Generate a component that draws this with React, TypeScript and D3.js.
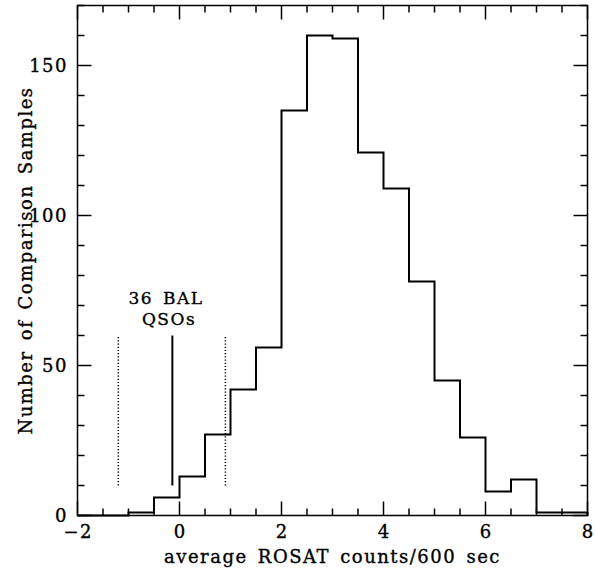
import React from "react";
import * as d3 from "d3";

const binEdgesStart = [-2, -1.5, -1, -0.5, 0, 0.5, 1, 1.5, 2, 2.5, 3, 3.5, 4, 4.5, 5, 5.5, 6, 6.5, 7, 7.5];
const counts = [0, 0, 1, 6, 13, 27, 42, 56, 135, 160, 159, 121, 109, 78, 45, 26, 8, 12, 1, 1];
const binWidth = 0.5;
const xTicksMajor = [-2, 0, 2, 4, 6, 8];
const yTicksMajor = [0, 50, 100, 150];
const solidMarker = [-0.14];
const dottedMarkers = [-1.2, 0.9];
const markerRange = [10, 60];
const labelLines = ["36 BAL", "QSOs"];
const xLabel = "average ROSAT counts/600 sec";
const yLabel = "Number of Comparison Samples";

const W = 595, H = 572;
const L = 77.5, R = 587.5, T = 5.5, B = 515.5;
const FONT = "DejaVu Serif";

export default function App() {
  const x = d3.scaleLinear().domain([-2, 8]).range([L, R]);
  const y = d3.scaleLinear().domain([0, 170]).range([B, T]);

  const pts: [number, number][] = [];
  pts.push([binEdgesStart[0], 0]);
  binEdgesStart.forEach((s, i) => {
    pts.push([s, counts[i]]);
    pts.push([s + binWidth, counts[i]]);
  });
  pts.push([binEdgesStart[binEdgesStart.length - 1] + binWidth, 0]);
  const line = d3.line<[number, number]>().x(d => x(d[0])).y(d => y(d[1]));

  const xMinor = d3.range(-2, 8.001, 0.5);
  const yMinor = d3.range(0, 170.001, 10);
  const major = 14, minor = 7;

  return (
    <svg width={W} height={H} style={{ position: "absolute", left: 0, top: 0 }}>
      <rect width={W} height={H} fill="#fff" />
      <g stroke="#000" strokeWidth={1.5} fill="none">
        <rect x={L} y={T} width={R - L} height={B - T} />
        {xMinor.map((v, i) => {
          const isMaj = xTicksMajor.some(m => Math.abs(m - v) < 1e-6);
          const len = isMaj ? major : minor;
          return (
            <g key={"x" + i}>
              <line x1={x(v)} x2={x(v)} y1={B} y2={B - len} />
              <line x1={x(v)} x2={x(v)} y1={T} y2={T + len} />
            </g>
          );
        })}
        {yMinor.map((v, i) => {
          const isMaj = yTicksMajor.some(m => Math.abs(m - v) < 1e-6);
          const len = isMaj ? major : minor;
          return (
            <g key={"y" + i}>
              <line x1={L} x2={L + len} y1={y(v)} y2={y(v)} />
              <line x1={R} x2={R - len} y1={y(v)} y2={y(v)} />
            </g>
          );
        })}
      </g>
      <path d={line(pts) || ""} fill="none" stroke="#000" strokeWidth={2} />
      {solidMarker.map((v, i) => (
        <line key={"s" + i} x1={x(v)} x2={x(v)} y1={y(markerRange[0])} y2={y(markerRange[1])} stroke="#000" strokeWidth={2} />
      ))}
      {dottedMarkers.map((v, i) => (
        <line key={"d" + i} x1={x(v)} x2={x(v)} y1={y(markerRange[0])} y2={y(markerRange[1])} stroke="#000" strokeWidth={1.5} strokeDasharray="1.2,2" />
      ))}
      <g fontFamily={FONT} fontSize={18} fill="#000" stroke="#000" strokeWidth={0.35} letterSpacing={1.5} wordSpacing={3}>
        {xTicksMajor.map(v => (
          <text key={"xl" + v} x={x(v) + 0.75} y={538} textAnchor="middle">{v < 0 ? "\u2212" + Math.abs(v) : v}</text>
        ))}
        {yTicksMajor.map(v => (
          <text key={"yl" + v} x={68} y={y(v) + 6.5} textAnchor="end">{v}</text>
        ))}
        <text x={(L + R) / 2 + 0} y={563} textAnchor="middle">{xLabel}</text>
        <text transform={`translate(32,${(T + B) / 2}) rotate(-90)`} textAnchor="middle">{yLabel}</text>
        {labelLines.map((t, i) => (
          <text key={"ll" + i} x={i === 0 ? 166 : 169} y={304 + i * 21} fontSize={17} textAnchor="middle">{t}</text>
        ))}
      </g>
    </svg>
  );
}
